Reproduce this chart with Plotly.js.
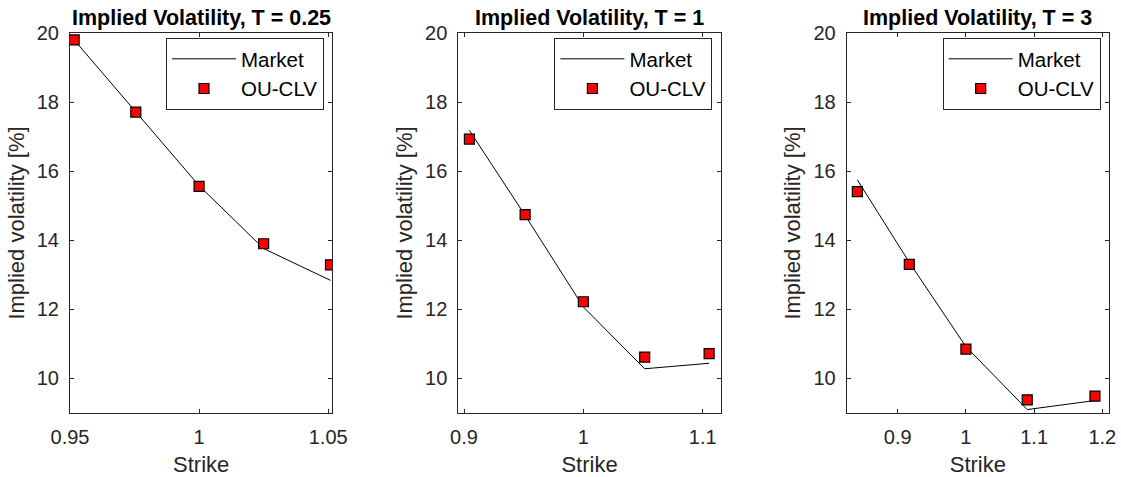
<!DOCTYPE html>
<html>
<head>
<meta charset="utf-8">
<script src="https://cdn.plot.ly/plotly-3.0.1.min.js"></script>
<style>html,body{margin:0;padding:0;background:#fff;}#chart{width:1121px;height:477px;}</style>
</head>
<body>
<div id="chart"></div>
<script>
// Maturities (panel titles)
const maturities = ["0.25", "1", "3"];
// Strikes per maturity
const strikesT025 = [0.9516, 0.9755, 1.0, 1.0250, 1.0509];
const strikesT1   = [0.9045, 0.9512, 1.0, 1.0514, 1.1054];
const strikesT3   = [0.8408, 0.9170, 1.0, 1.0899, 1.1892];
// Market implied volatility [%]
const marketT025 = [19.80, 17.70, 15.58, 13.76, 12.84];
const marketT1   = [17.18, 14.72, 12.07, 10.28, 10.44];
const marketT3   = [15.75, 13.36, 10.92, 9.10, 9.36];
// OU-CLV model implied volatility [%]
const modelT025 = [19.80, 17.71, 15.56, 13.90, 13.29];
const modelT1   = [16.93, 14.74, 12.22, 10.62, 10.72];
const modelT3   = [15.41, 13.30, 10.85, 9.38, 9.49];
// Axis settings
const xRanges = [[0.95, 1.0516], [0.8952, 1.1151], [0.8252, 1.2098]];
const xTickVals = [[0.95, 1, 1.05], [0.9, 1, 1.1], [0.9, 1, 1.1, 1.2]];
const yRange = [9, 20];
const yTickVals = [10, 12, 14, 16, 18, 20];

const strikes = [strikesT025, strikesT1, strikesT3];
const market = [marketT025, marketT1, marketT3];
const model = [modelT025, modelT1, modelT3];

const W = 1121, H = 477;
const xDomainsPx = [[70, 332.3], [458.3, 720.7], [846.7, 1109]];
const yDomain = [1 - 413 / H, 1 - 33 / H];
const axColor = '#262626';
const fontFam = '"Liberation Sans", Arial, Helvetica, sans-serif';

const traces = [];
const layout = {
  width: W, height: H,
  margin: {l: 0, r: 0, t: 0, b: 0},
  paper_bgcolor: '#fff', plot_bgcolor: '#fff',
  showlegend: true,
  font: {family: fontFam, color: axColor},
  annotations: []
};

for (let i = 0; i < 3; i++) {
  const sfx = i === 0 ? '' : String(i + 1);
  const lg = 'legend' + sfx;
  traces.push({
    type: 'scatter', mode: 'lines', name: 'Market',
    x: strikes[i], y: market[i],
    xaxis: 'x' + sfx, yaxis: 'y' + sfx,
    line: {color: '#000', width: 1},
    legend: lg,
    hoverinfo: 'skip'
  });
  traces.push({
    type: 'scatter', mode: 'markers', name: 'OU-CLV',
    x: strikes[i], y: model[i],
    xaxis: 'x' + sfx, yaxis: 'y' + sfx,
    marker: {symbol: 'square', size: 10, color: '#ff0000', line: {color: '#000', width: 1.2}},
    legend: lg,
    hoverinfo: 'skip'
  });
  const d = xDomainsPx[i];
  layout['xaxis' + sfx] = {
    domain: [d[0] / W, d[1] / W],
    anchor: 'y' + sfx,
    range: xRanges[i],
    tickmode: 'array', tickvals: xTickVals[i],
    ticks: 'inside', ticklen: 4, tickwidth: 1, tickcolor: axColor,
    showline: true, linecolor: axColor, linewidth: 1, mirror: 'ticks',
    showgrid: false, zeroline: false,
    tickfont: {size: 20, color: axColor, family: fontFam},
    ticklabelstandoff: 6,
    title: {text: 'Strike', font: {size: 22, color: axColor, family: fontFam}, standoff: 10}
  };
  layout['yaxis' + sfx] = {
    domain: yDomain,
    anchor: 'x' + sfx,
    range: yRange,
    tickmode: 'array', tickvals: yTickVals,
    ticks: 'inside', ticklen: 4, tickwidth: 1, tickcolor: axColor,
    showline: true, linecolor: axColor, linewidth: 1, mirror: 'ticks',
    showgrid: false, zeroline: false,
    tickfont: {size: 20, color: axColor, family: fontFam},
    ticklabelstandoff: 6,
    title: {text: 'Implied volatility [%]', font: {size: 22, color: axColor, family: fontFam}, standoff: 6}
  };
  layout[lg] = {
    x: (d[1] - 8.3) / W, xanchor: 'right', xref: 'paper',
    y: 1 - 38 / H, yanchor: 'top', yref: 'paper',
    bgcolor: '#fff', bordercolor: axColor, borderwidth: 1,
    font: {size: 20.5, color: '#000', family: fontFam},
    itemwidth: 64, traceorder: 'normal',
    itemclick: false, itemdoubleclick: false
  };
  layout.annotations.push({
    text: '<b>Implied Volatility, T = ' + maturities[i] + '</b>',
    xref: 'x' + sfx + ' domain', yref: 'y' + sfx + ' domain',
    x: 0.5, y: 1, xanchor: 'center', yanchor: 'bottom', yshift: 1,
    showarrow: false,
    font: {size: 21.5, color: '#000', family: fontFam}
  });
}

Plotly.newPlot('chart', traces, layout, {staticPlot: true, displayModeBar: false});
</script>
</body>
</html>
